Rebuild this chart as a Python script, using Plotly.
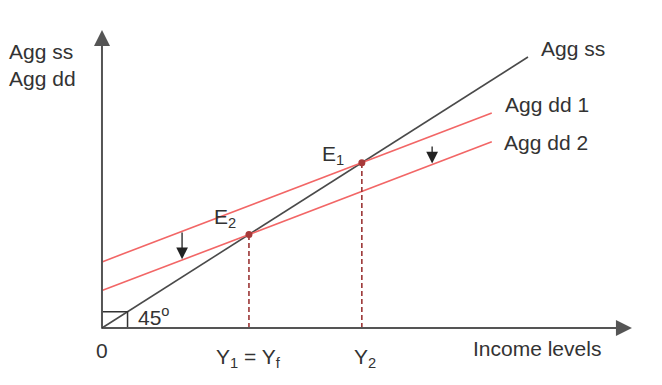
import plotly.graph_objects as go

# ---- data (diagram units: 45-degree line is y = x) ----
ss_x = [0, 100]
ss_y = [0, 100]
dd_x = [0, 91.5]
dd1_y = [24.4, 24.4 + 0.6 * 91.5]
dd2_y = [13.8, 13.8 + 0.6 * 91.5]
eq_labels = ["E<sub>1</sub>", "E<sub>2</sub>"]
eq_x = [61.0, 34.5]
eq_y = [61.0, 34.5]
tick_labels = ["0", "Y<sub>1</sub> = Y<sub>f</sub>", "Y<sub>2</sub>"]
tick_vals = [0, 34.5, 61.0]

FONT = "Liberation Sans, Arial, sans-serif"
TXT = "#333333"
RED = "#f26666"
fs = 21

fig = go.Figure()
fig.add_trace(go.Scatter(x=ss_x, y=ss_y, mode="lines", line=dict(color="#4a4a4a", width=1.6), hoverinfo="skip"))
fig.add_trace(go.Scatter(x=dd_x, y=dd1_y, mode="lines", line=dict(color=RED, width=1.6), hoverinfo="skip"))
fig.add_trace(go.Scatter(x=dd_x, y=dd2_y, mode="lines", line=dict(color=RED, width=1.6), hoverinfo="skip"))
# dashed drop lines
for ex, ey in zip(eq_x, eq_y):
    fig.add_trace(go.Scatter(x=[ex, ex], y=[0, ey], mode="lines",
                             line=dict(color="#9b3535", width=1.6, dash="5px,3px"), hoverinfo="skip"))
fig.add_trace(go.Scatter(x=eq_x, y=eq_y, mode="markers",
                         marker=dict(color="#a83a3a", size=7), hoverinfo="skip"))

# small square at origin
fig.add_shape(type="rect", x0=0, y0=0, x1=6, y1=6, line=dict(color="#333", width=1.5))

ann = []
# axes with arrows
ann.append(dict(x=124.4, y=0, ax=0, ay=0, axref="x", ayref="y", xref="x", yref="y",
                showarrow=True, arrowhead=2, arrowsize=1.6, arrowwidth=2.0, arrowcolor="#555", text=""))
ann.append(dict(x=0, y=110, ax=0, ay=0, axref="x", ayref="y", xref="x", yref="y",
                showarrow=True, arrowhead=2, arrowsize=1.6, arrowwidth=2.0, arrowcolor="#555", text=""))
# shift arrows
ann.append(dict(x=18.8, y=25.4, ax=18.8, ay=35.8, axref="x", ayref="y",
                showarrow=True, arrowhead=2, arrowsize=1.8, arrowwidth=1.3, arrowcolor="#222", text=""))
ann.append(dict(x=77.5, y=60.7, ax=77.5, ay=67.5, axref="x", ayref="y",
                showarrow=True, arrowhead=2, arrowsize=1.8, arrowwidth=1.3, arrowcolor="#222", text=""))

def label(text, x, y, xanchor="center", align="center"):
    ann.append(dict(x=x, y=y, text=text, showarrow=False, xanchor=xanchor, yanchor="middle",
                    align=align, font=dict(family=FONT, size=fs, color=TXT)))

label("Agg ss<br>Agg dd", -22.3, 97.2, "left", "left")
label("Agg ss", 102.6, 103.3, "left")
label("Agg dd 1", 94.1, 82.3, "left")
label("Agg dd 2", 93.9, 68.3, "left")
label(eq_labels[0], 54.2, 63.8)
label(eq_labels[1], 28.9, 40.6)
label("45<sup>o</sup>", 12.2, 4.3)
label("Income levels", 102.1, -7.7)
label(tick_labels[0], tick_vals[0], -8.3)
label(tick_labels[1], tick_vals[1], -10.9)
label(tick_labels[2], tick_vals[2] + 0.8, -10.9)

fig.update_layout(
    width=662, height=385, margin=dict(l=0, r=0, t=0, b=0),
    paper_bgcolor="white", plot_bgcolor="white", showlegend=False,
    xaxis=dict(range=[-23.94, 131.46], visible=False, fixedrange=True),
    yaxis=dict(range=[-21.03, 121.03], visible=False, fixedrange=True),
    annotations=ann,
)
fig.write_html("out.html")
